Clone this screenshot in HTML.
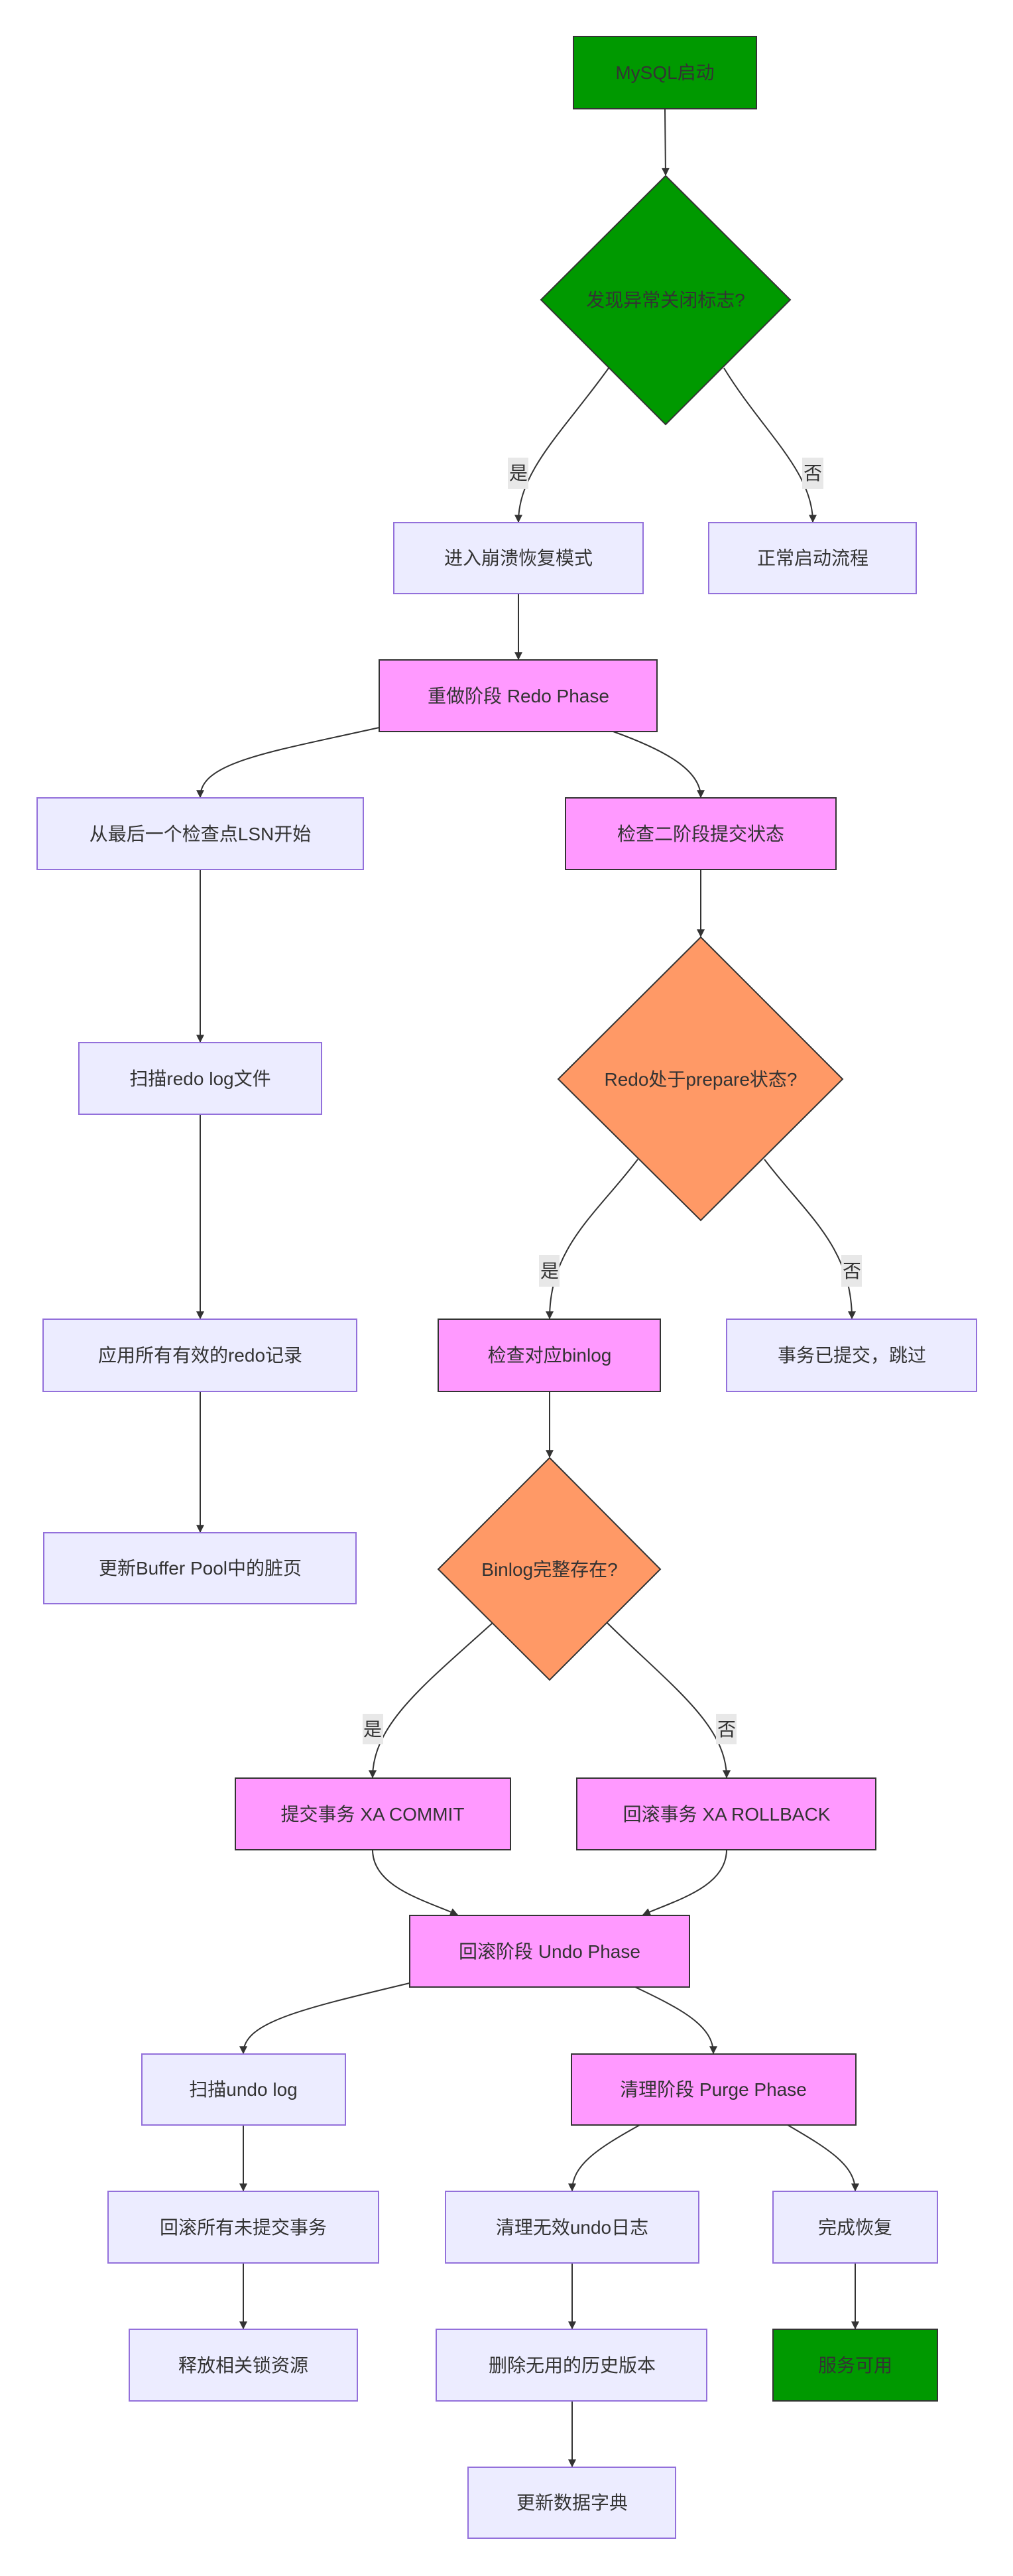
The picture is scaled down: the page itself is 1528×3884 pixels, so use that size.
<!DOCTYPE html>
<html><head><meta charset="utf-8"><style>
html,body{margin:0;padding:0;background:#fff;}
svg{display:block;}
text{font-family:"Liberation Sans","Noto Sans CJK SC",sans-serif;font-size:28px;fill:#333;}
.l{fill:#ececff;stroke:#9370db;stroke-width:2;}
.m{fill:#ff99ff;stroke:#333;stroke-width:2;}
.g{fill:#009900;stroke:#333;stroke-width:2;}
.o{fill:#ff9966;stroke:#333;stroke-width:2;}
.e{fill:none;stroke:#333;stroke-width:2;marker-end:url(#a);}
.lb{fill:#e8e8e8;}
</style></head><body>
<svg width="1528" height="3884" viewBox="0 0 1528 3884" xmlns="http://www.w3.org/2000/svg">
<defs><marker id="a" viewBox="0 0 10 10" refX="9" refY="5" markerWidth="6" markerHeight="6" orient="auto"><path d="M0,0L10,5L0,10z" fill="#333"/></marker></defs>

<!-- edges -->
<path class="e" d="M1003,164 L1004,264"/>
<path class="e" d="M918,555 C850,650 782,710 782,787"/>
<path class="e" d="M1092,555 C1150,650 1226,710 1226,787"/>
<path class="e" d="M782,895 L782,994"/>
<path class="e" d="M572,1097 C400,1135 302,1150 302,1202"/>
<path class="e" d="M925,1103 C1000,1130 1057,1160 1057,1202"/>
<path class="e" d="M1057,1311 L1057,1412"/>
<path class="e" d="M302,1311 L302,1571"/>
<path class="e" d="M302,1680 L302,1988"/>
<path class="e" d="M302,2098 L302,2310"/>
<path class="e" d="M962,1748 C900,1830 829,1880 829,1988"/>
<path class="e" d="M1153,1748 C1215,1830 1285,1880 1285,1988"/>
<path class="e" d="M829,2098 L829,2197"/>
<path class="e" d="M743,2447 C640,2540 562,2600 562,2680"/>
<path class="e" d="M916,2447 C1010,2540 1096,2600 1096,2680"/>
<path class="e" d="M562,2789 C562,2845 640,2865 690,2887"/>
<path class="e" d="M1096,2789 C1096,2845 1020,2865 970,2887"/>
<path class="e" d="M618,2990 C450,3030 367,3050 367,3096"/>
<path class="e" d="M958,2996 C1030,3030 1076,3055 1076,3096"/>
<path class="e" d="M367,3204 L367,3303"/>
<path class="e" d="M367,3412 L367,3511"/>
<path class="e" d="M965,3204 C900,3240 863,3265 863,3303"/>
<path class="e" d="M1188,3204 C1250,3240 1290,3265 1290,3303"/>
<path class="e" d="M863,3412 L863,3511"/>
<path class="e" d="M863,3620 L863,3719"/>
<path class="e" d="M1290,3412 L1290,3511"/>

<!-- edge labels -->
<rect class="lb" x="766" y="690" width="31" height="47"/><text x="782" y="723" text-anchor="middle">是</text>
<rect class="lb" x="1210" y="690" width="32" height="47"/><text x="1226" y="723" text-anchor="middle">否</text>
<rect class="lb" x="813" y="1892" width="31" height="48"/><text x="829" y="1926" text-anchor="middle">是</text>
<rect class="lb" x="1269" y="1892" width="31" height="48"/><text x="1285" y="1926" text-anchor="middle">否</text>
<rect class="lb" x="547" y="2584" width="31" height="46"/><text x="562" y="2617" text-anchor="middle">是</text>
<rect class="lb" x="1080" y="2584" width="31" height="46"/><text x="1096" y="2617" text-anchor="middle">否</text>

<!-- nodes -->
<rect class="g" x="865" y="55" width="276" height="109"/><text x="1003" y="119" text-anchor="middle">MySQL启动</text>
<polygon class="g" points="1004,265 1192,452 1004,640 816,452"/><text x="1004" y="462" text-anchor="middle">发现异常关闭标志?</text>
<rect class="l" x="594" y="788" width="376" height="107"/><text x="782" y="851" text-anchor="middle">进入崩溃恢复模式</text>
<rect class="l" x="1069" y="788" width="313" height="107"/><text x="1226" y="851" text-anchor="middle">正常启动流程</text>
<rect class="m" x="572" y="995" width="419" height="108"/><text x="782" y="1059" text-anchor="middle">重做阶段 Redo Phase</text>
<rect class="l" x="56" y="1203" width="492" height="108"/><text x="302" y="1267" text-anchor="middle">从最后一个检查点LSN开始</text>
<rect class="m" x="853" y="1203" width="408" height="108"/><text x="1057" y="1267" text-anchor="middle">检查二阶段提交状态</text>
<polygon class="o" points="1057,1413 1271,1627 1057,1840 842,1627"/><text x="1057" y="1637" text-anchor="middle">Redo处于prepare状态?</text>
<rect class="l" x="119" y="1572" width="366" height="108"/><text x="302" y="1636" text-anchor="middle">扫描redo log文件</text>
<rect class="l" x="65" y="1989" width="473" height="109"/><text x="302" y="2053" text-anchor="middle">应用所有有效的redo记录</text>
<rect class="m" x="661" y="1989" width="335" height="109"/><text x="829" y="2053" text-anchor="middle">检查对应binlog</text>
<rect class="l" x="1096" y="1989" width="377" height="109"/><text x="1285" y="2053" text-anchor="middle">事务已提交，跳过</text>
<rect class="l" x="66" y="2311" width="471" height="107"/><text x="302" y="2374" text-anchor="middle">更新Buffer Pool中的脏页</text>
<polygon class="o" points="829,2198 996,2366 829,2533 661,2366"/><text x="829" y="2376" text-anchor="middle">Binlog完整存在?</text>
<rect class="m" x="355" y="2681" width="415" height="108"/><text x="562" y="2745" text-anchor="middle">提交事务 XA COMMIT</text>
<rect class="m" x="870" y="2681" width="451" height="108"/><text x="1096" y="2745" text-anchor="middle">回滚事务 XA ROLLBACK</text>
<rect class="m" x="618" y="2888" width="422" height="108"/><text x="829" y="2952" text-anchor="middle">回滚阶段 Undo Phase</text>
<rect class="l" x="214" y="3097" width="307" height="107"/><text x="367" y="3160" text-anchor="middle">扫描undo log</text>
<rect class="m" x="862" y="3097" width="429" height="107"/><text x="1076" y="3160" text-anchor="middle">清理阶段 Purge Phase</text>
<rect class="l" x="163" y="3304" width="408" height="108"/><text x="367" y="3368" text-anchor="middle">回滚所有未提交事务</text>
<rect class="l" x="672" y="3304" width="382" height="108"/><text x="863" y="3368" text-anchor="middle">清理无效undo日志</text>
<rect class="l" x="1166" y="3304" width="248" height="108"/><text x="1290" y="3368" text-anchor="middle">完成恢复</text>
<rect class="l" x="195" y="3512" width="344" height="108"/><text x="367" y="3576" text-anchor="middle">释放相关锁资源</text>
<rect class="l" x="658" y="3512" width="408" height="108"/><text x="863" y="3576" text-anchor="middle">删除无用的历史版本</text>
<rect class="g" x="1166" y="3512" width="248" height="108"/><text x="1290" y="3576" text-anchor="middle">服务可用</text>
<rect class="l" x="706" y="3720" width="313" height="107"/><text x="863" y="3783" text-anchor="middle">更新数据字典</text>
</svg>
</body></html>
